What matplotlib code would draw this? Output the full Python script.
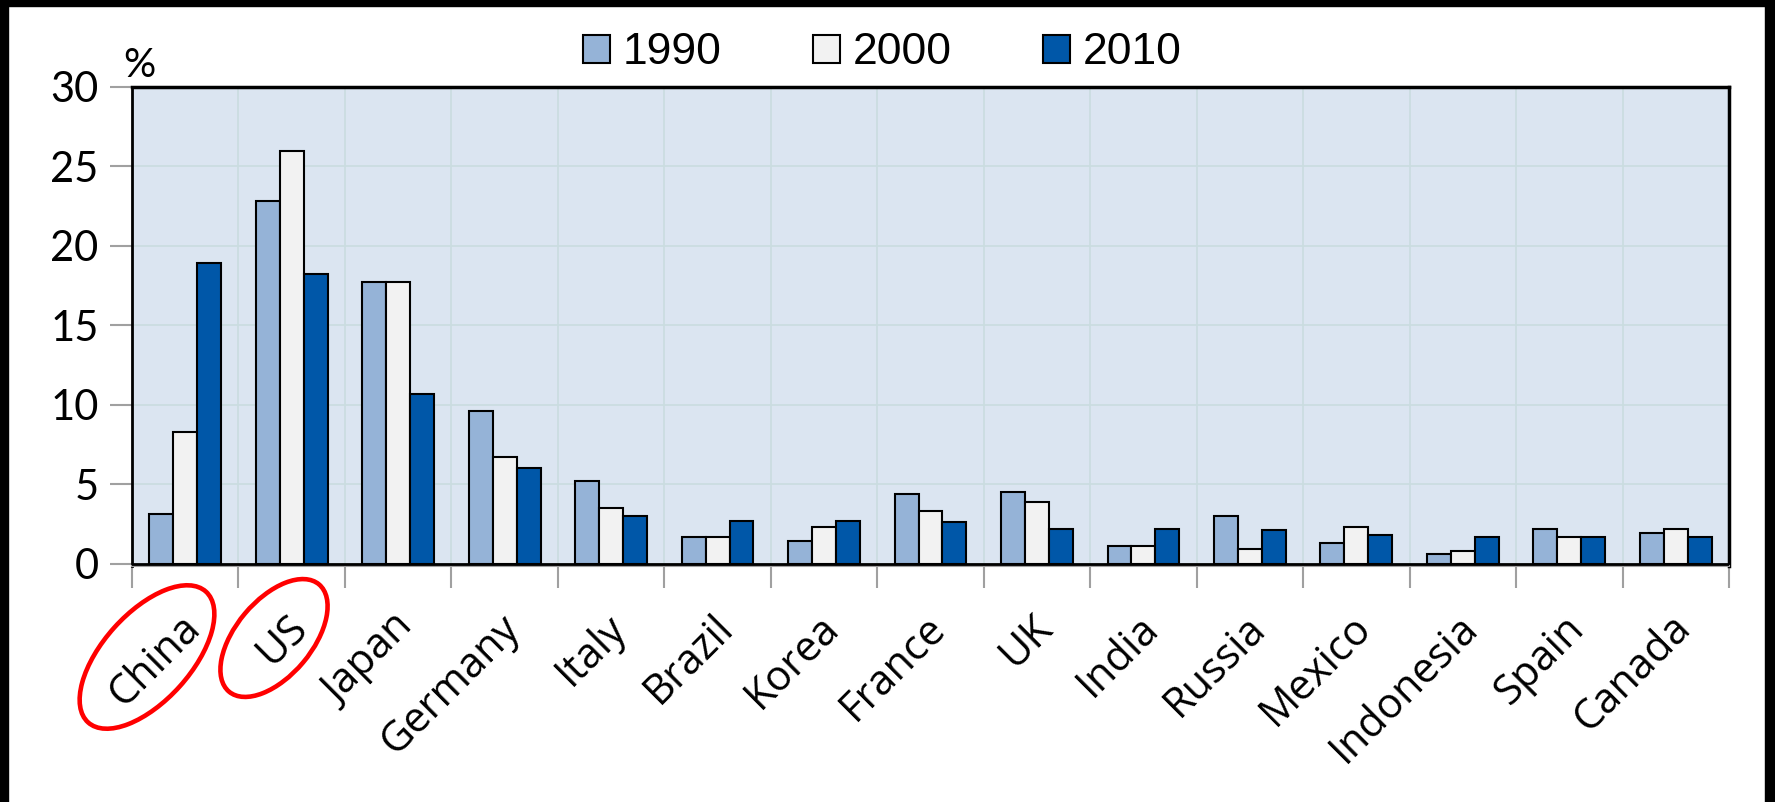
import numpy as np
import matplotlib
matplotlib.use("Agg")
import matplotlib.pyplot as plt
from matplotlib.patches import Ellipse, Rectangle
from matplotlib.transforms import ScaledTranslation

# ── Data ─────────────────────────────────────────────────────────────────────
countries = ["China", "US", "Japan", "Germany", "Italy", "Brazil", "Korea",
             "France", "UK", "India", "Russia", "Mexico", "Indonesia", "Spain", "Canada"]
years = ["1990", "2000", "2010"]
share_1990 = [3.1, 22.8, 17.7, 9.6, 5.2, 1.7, 1.4, 4.4, 4.5, 1.1, 3.0, 1.3, 0.6, 2.2, 1.9]
share_2000 = [8.3, 26.0, 17.7, 6.7, 3.5, 1.7, 2.3, 3.3, 3.9, 1.1, 0.9, 2.3, 0.8, 1.7, 2.2]
share_2010 = [18.9, 18.2, 10.7, 6.0, 3.0, 2.7, 2.7, 2.6, 2.2, 2.2, 2.1, 1.8, 1.7, 1.7, 1.7]
yticks = [0, 5, 10, 15, 20, 25, 30]

colors = ["#95B3D7", "#F2F2F2", "#0057A8"]
W, H, DPI = 1775, 802, 100

fig = plt.figure(figsize=(W / DPI, H / DPI), dpi=DPI)
fig.patch.set_facecolor("white")
ax = fig.add_axes([132 / W, 1 - 566 / H, (1729 - 132) / W, (566 - 87) / H])
ax.set_facecolor("#DBE5F1")

x = np.arange(len(countries))
bw = 0.225
for i, (vals, col, lab) in enumerate(zip([share_1990, share_2000, share_2010], colors, years)):
    ax.bar(x + (i - 1) * bw, vals, width=bw, color=col, edgecolor="black",
           linewidth=1.5, label=lab, zorder=3)
ax.axhline(0, color="black", lw=2, zorder=4)

ax.set_xlim(-0.5, len(countries) - 0.5)
ax.set_ylim(-0.15, 30)

# gridlines at group boundaries and every 5%
ax.set_xticks(np.arange(len(countries) + 1) - 0.5)
ax.set_xticklabels([])
ax.set_xticks(x, minor=True)
ax.set_xticklabels(countries, minor=True, rotation=45, ha="right", va="center",
                   rotation_mode="anchor", fontsize=30, family="Open Sans")
ax.tick_params(axis="x", which="major", length=16, width=1.5, color="#A0A0A0")
ax.tick_params(axis="x", which="minor", length=0, pad=40)
shift = ScaledTranslation(9 / DPI, 0, fig.dpi_scale_trans)
for lbl in ax.get_xticklabels(minor=True):
    lbl.set_transform(lbl.get_transform() + shift)

ax.set_yticks(yticks)
ax.set_yticklabels([str(v) for v in yticks], fontsize=30, family="Lato")
ax.tick_params(axis="y", length=16, width=1.5, color="#A0A0A0", pad=8)
ax.grid(True, which="major", color="#CADCE0", lw=1.2, zorder=0)
ax.set_axisbelow(True)

for side in ["left", "top", "right"]:
    ax.spines[side].set_color("black")
ax.spines["left"].set_linewidth(2)
ax.spines["top"].set_linewidth(2.5)
ax.spines["right"].set_linewidth(2.5)
ax.spines["bottom"].set_color("#A0A0A0")
ax.spines["bottom"].set_linewidth(1.5)

fig.text(123 / W, 1 - 77 / H, "%", fontsize=29, family="Lato", ha="left", va="baseline")

fig.legend(loc="center left", bbox_to_anchor=(583 / W, 1 - 53 / H), ncol=3,
           frameon=False, prop={"family": "Liberation Sans", "size": 32},
           handlelength=0.6, handleheight=0.6, handletextpad=0.3,
           columnspacing=2.05, borderpad=0, borderaxespad=0)

# red hand-drawn ellipses around China and US labels (pixel coords, from top)
px = fig.dpi_scale_trans
for cx, cy, w, h, ang in [(147, 657, 176, 88, 48), (274, 638, 140, 76, 50)]:
    fig.patches.append(Ellipse((cx / DPI, (H - cy) / DPI), w / DPI, h / DPI, angle=ang,
                               transform=px, fill=False, edgecolor="#FF0000", lw=3.3))

# black frame around the screenshot
for (x0, y0, ww, hh) in [(0, 0, W, 6), (0, 0, 8, H), (1765, 0, W - 1765, H)]:
    fig.patches.append(Rectangle((x0 / DPI, (H - y0 - hh) / DPI), ww / DPI, hh / DPI,
                                 transform=px, color="black", zorder=10))

fig.savefig("out.png", dpi=DPI)
